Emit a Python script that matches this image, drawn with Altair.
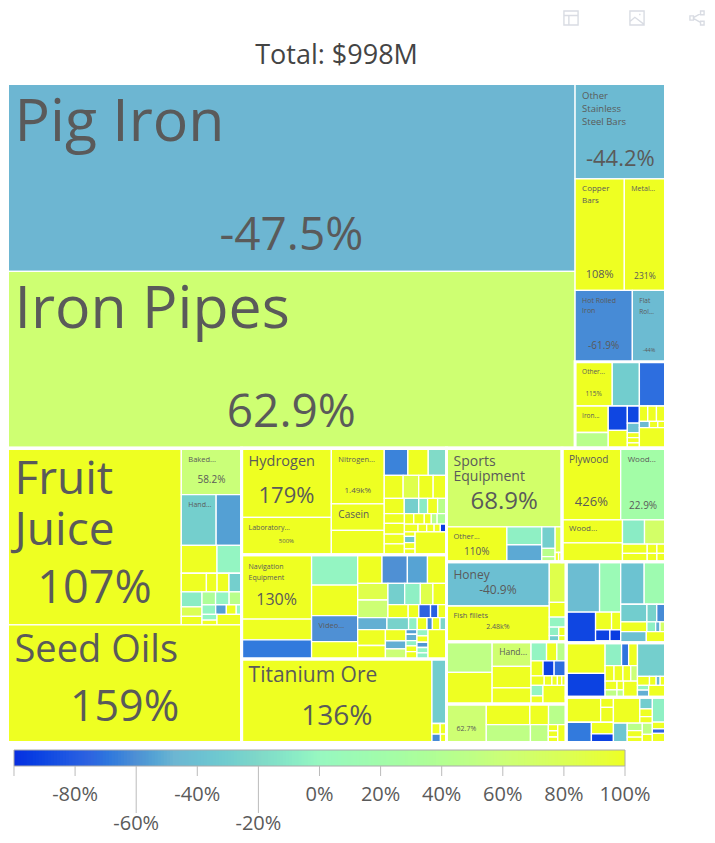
import altair as alt
import numpy as np
import pandas as pd

TITLE = "Total: $998M"
Y = 130  # growth of every plain yellow cell (beyond the top of the colour scale)

COLOR_DOMAIN = [-100, -75, -60, -47.5, -20, 0, 60, 100]
COLOR_RANGE = ["#0a2ee0", "#2f64e0", "#4f90d4", "#6db6d2", "#80d8c8", "#98f8c0", "#ccff77", "#eeff22"]
TICKS = [-100, -80, -60, -40, -20, 0, 20, 40, 60, 80, 100]
TICK_LABELS = ["", "-80%", "-60%", "-40%", "-20%", "0%", "20%", "40%", "60%", "80%", "100%"]
TREE_W, TREE_H = 655, 656


def L(v, g, name=""):
    return {"v": v, "g": g, "name": name}


def H(*kids, t=None, box=False):
    return {"dir": "H", "kids": kids, "t": t, "box": box}


def V(*kids, t=None, box=False):
    return {"dir": "V", "kids": kids, "t": t, "box": box}


top_right = V(
    L(8550, -44.2, "Other\nStainless\nSteel Bars"),
    H(L(5439, 108, "Copper\nBars"), L(4551, 231, "Metal..."), t=9990),
    H(L(4047, -61.9, "Hot Rolled\nIron"), L(2343, -44, "Flat\nRol..."), t=6390),
    V(
        H(L(1591, 115, "Other..."), L(1161, -30), L(1118, -72), t=3870),
        H(
            V(L(850, Y, "Iron..."), L(503, 45)),
            H(
                V(L(450, -90), L(329, Y)),
                V(L(200, -90), L(110, -40), L(60, Y), L(60, Y), L(62, Y)),
            ),
            V(
                H(L(125, Y), L(130, Y), L(135, Y)),
                H(L(60, -45), L(50, Y), L(46, Y)),
                L(520, Y),
            ),
            t=3690,
        ),
        t=7740,
        box=True,
    ),
    t=32670,
)

col_a_right = V(
    L(2700, 58.2, "Baked..."),
    H(L(1700, -28, "Hand..."), L(1240, -55), t=2940),
    V(
        H(L(960, Y), L(660, -2), t=1620),
        H(L(400, Y), L(170, Y), L(190, Y), L(200, -28), t=1080),
        H(
            V(L(300, -8), L(190, 80), L(170, Y), t=660),
            V(
                H(L(120, 35), L(120, -2), L(110, 45)),
                H(L(90, -2), L(70, -55), L(65, Y), L(35, 0)),
                H(V(L(60, -2), L(50, Y)), L(180, Y)),
                t=1260,
            ),
            t=1920,
        ),
        t=4620,
    ),
    t=10560,
)

nitro_right = V(
    H(L(528, -65), L(456, Y), L(408, -18)),
    H(L(357, Y), L(294, 85), L(273, Y), L(252, Y)),
    H(L(252, Y), L(182, -28), L(112, -8), L(126, Y), L(112, 45)),
    H(
        V(L(160, Y), L(180, Y), L(160, Y), L(180, Y)),
        V(
            H(L(80, Y), L(90, Y), L(60, Y), L(50, 45), L(80, 35)),
            H(L(88, Y), L(56, Y), L(48, Y), L(40, Y), L(40, -95)),
            H(V(L(40, Y), L(55, -35), L(55, Y), L(50, Y)), L(588, Y)),
        ),
    ),
    t=60 * 105,
)

nav_right = V(
    H(
        V(L(1204, -2), L(1204, Y), L(1032, -60, "Video..."), L(688, Y)),
        V(
            H(L(598, Y), L(624, -60), L(494, -54), L(468, Y)),
            H(
                V(L(432, 85), L(459, 62)),
                V(
                    H(L(304, -28), L(285, -5), L(228, 85), L(247, Y)),
                    H(L(228, Y), L(120, Y), L(132, -76), L(84, -78), L(96, Y)),
                ),
            ),
            H(L(297, -50), L(220, -25), L(88, -5), L(99, Y), L(55, -62), L(77, Y), L(66, -22)),
            H(
                V(L(378, Y), L(324, Y)),
                V(L(200, Y), L(140, -50), L(180, 60)),
                V(L(44, -55), L(60, -50), L(50, -5), L(55, Y), L(70, Y)),
                V(L(60, -2), L(60, Y), L(50, -58), L(50, -2), L(60, -5)),
                L(468, Y),
            ),
        ),
    ),
    t=133 * 102,
)

col_b = V(
    H(
        V(L(5963, 179, "Hydrogen"), L(3204, 500, "Laboratory...")),
        H(
            V(L(2805, 1490, "Nitrogen..."), L(1326, 130, "Casein"), L(1225, Y)),
            nitro_right,
            t=112 * 105,
        ),
        t=204 * 106,
        box=True,
    ),
    H(
        V(L(4340, 130, "Navigation\nEquipment"), L(1400, Y), L(1300, -68)),
        nav_right,
        t=204 * 104,
        box=True,
    ),
    H(
        L(187 * 83, 136, "Titanium Ore"),
        V(L(915, -30), H(L(85, Y), L(65, Y)), H(L(70, -62), L(50, Y))),
        t=204 * 83,
        box=True,
    ),
    t=204 * 293,
    box=True,
)

sports = V(
    L(115 * 75, 68.9, "Sports\nEquipment"),
    H(
        L(1998, 110, "Other..."),
        V(L(594, -5), L(561, -52)),
        V(L(273, -28), L(104, 45), L(65, 45)),
        V(L(168, 85), H(L(30, Y), L(30, Y))),
    ),
    t=115 * 112,
    box=True,
)

wood = V(
    H(L(3795, 426, "Plywood"), L(2898, 22.9, "Wood...")),
    H(
        V(L(1254, Y, "Wood..."), L(1026, Y)),
        V(
            H(L(483, -8), L(460, 70)),
            H(V(L(207, Y), L(184, Y)), V(L(81, Y), L(72, Y)), V(L(72, Y), L(64, Y))),
        ),
    ),
    t=103 * 112,
    box=True,
)

honey = H(
    V(L(4059, -40.9, "Honey"), L(3267, 2480, "Fish fillets")),
    V(
        L(612, 85),
        L(221, Y),
        L(153, -2),
        H(L(72, -5), L(56, Y)),
        H(L(50, -30), L(40, Y)),
    ),
    t=117 * 77,
    box=True,
)

middle = H(
    V(L(1204, 50), L(1247, Y)),
    V(L(828, 65, "Hand..."), L(720, Y), L(540, Y)),
    V(
        H(L(255, -2), L(170, Y), L(153, 45)),
        H(L(156, Y), L(143, -92), L(156, -72)),
        H(L(108, Y), L(63, Y), L(45, Y), L(36, Y), L(36, Y)),
        H(V(L(108, -2), L(84, Y)), L(374, Y)),
    ),
    t=117 * 60,
    box=True,
)

bottom_left = H(
    L(1296, 62.7),
    V(
        H(L(756, Y), L(324, Y), L(306, 45)),
        H(
            L(672, 50),
            L(272, 50),
            V(L(50, Y), L(50, Y), L(44, Y)),
            L(128, Y),
        ),
    ),
    t=117 * 37,
    box=True,
)

right_top = H(
    V(
        H(L(1410, -42), L(893, 10)),
        H(
            L(754, -90),
            V(H(L(238, Y), L(136, Y)), H(L(132, -92), L(99, -95)), L(40, Y)),
        ),
    ),
    V(
        H(L(836, -38), L(760, 15)),
        H(L(384, -30), L(144, -25), L(128, -62)),
        H(L(216, Y), L(72, -5), L(36, -50), L(45, 70)),
        H(L(240, -40), L(180, Y)),
    ),
    t=96 * 79,
    box=True,
)

right_mid = H(
    V(L(891, Y), L(693, -92)),
    V(
        H(L(280, -5), L(120, -70), L(150, Y)),
        H(L(104, Y), L(104, Y), L(91, Y), L(78, 60)),
        H(V(L(77, Y), L(66, 50)), V(L(42, Y), L(36, 50)), L(168, Y)),
    ),
    V(
        L(702, -28),
        H(L(81, Y), L(45, Y), L(27, -45), L(36, Y)),
        H(V(L(40, -2), L(60, -50)), L(150, Y)),
    ),
    t=96 * 53,
    box=True,
)

right_low = H(
    V(
        H(L(638, Y), V(L(96, Y), L(140, Y))),
        H(L(378, -68), V(L(190, Y), L(140, -92))),
    ),
    V(
        H(L(506, Y), V(L(108, -30), L(72, Y), L(60, Y))),
        H(L(198, -35), V(L(84, 45), L(72, Y), L(60, Y)), V(L(84, 50), L(60, Y))),
    ),
    V(L(242, -5), L(66, Y), L(44, -75), L(88, Y)),
    t=96 * 44,
    box=True,
)

root = V(
    H(
        V(L(565 * 187, -47.5, "Pig Iron"), L(565 * 176, 62.9, "Iron Pipes")),
        top_right,
        t=655 * 363,
        box=True,
    ),
    H(
        V(
            H(L(173 * 176, 107, "Fruit\nJuice"), col_a_right),
            L(233 * 117, 159, "Seed Oils"),
            box=True,
        ),
        col_b,
        V(
            H(sports, wood, t=218 * 113),
            H(
                V(honey, middle, bottom_left),
                V(right_top, right_mid, right_low),
                t=218 * 180,
            ),
            t=218 * 293,
            box=True,
        ),
        t=655 * 293,
        box=True,
    ),
)

# text sizes per labelled cell: name font, first line offset, line step, percent font, percent offset
TEXT = {
    ("Pig Iron", -47.5): (59, 37, 0, 46, 150),
    ("Iron Pipes", 62.9): (59, 36, 0, 46, 139),
    ("Other\nStainless\nSteel Bars", -44.2): (9.5, 12, 13, 22, 74),
    ("Copper\nBars", 108): (8, 10, 12, 11, 96),
    ("Metal...", 231): (7, 10, 0, 8.5, 97),
    ("Hot Rolled\nIron", -61.9): (7, 10, 10, 10, 55),
    ("Flat\nRol...", -44): (6.5, 10, 11, 5.5, 59),
    ("Other...", 115): (6.5, 10, 0, 6.5, 32),
    ("Iron...", Y): (6.5, 10, 0, None, 0),
    ("Fruit\nJuice", 107): (46, 30, 51, 45, 139),
    ("Seed Oils", 159): (38, 24, 0, 43, 81),
    ("Baked...", 58.2): (7.5, 11, 0, 10, 31),
    ("Hand...", -28): (7, 10, 0, None, 0),
    ("Hydrogen", 179): (14.5, 13, 0, 22, 47),
    ("Laboratory...", 500): (7, 10, 0, 6, 23),
    ("Nitrogen...", 1490): (7.5, 11, 0, 8, 42),
    ("Casein", 130): (10, 11, 0, None, 0),
    ("Navigation\nEquipment", 130): (7, 12, 11, 16, 45),
    ("Video...", -60): (7.5, 10, 0, None, 0),
    ("Titanium Ore", 136): (21, 16, 0, 28, 56),
    ("Sports\nEquipment", 68.9): (14, 13, 15, 24, 53),
    ("Other...", 110): (7.5, 10, 0, 10, 25),
    ("Plywood", 426): (10, 11, 0, 13, 53),
    ("Wood...", 22.9): (8, 11, 0, 10, 57),
    ("Wood...", Y): (8, 9, 0, None, 0),
    ("Honey", -40.9): (12, 13, 0, 12, 28),
    ("Fish fillets", 2480): (7.5, 10, 0, 7, 21),
    ("Hand...", 65): (8.5, 10, 0, None, 0),
    ("", 62.7): (0, 0, 0, 7, 25),
}


def weight(n):
    if "v" in n:
        return n["v"]
    return n["t"] if n["t"] else sum(weight(k) for k in n["kids"])


def pct_text(g):
    return f"{g / 1000:.3g}k%" if abs(g) >= 1000 else f"{g:.3g}%"


leaves, boxes = [], []


def place(n, x0, y0, x1, y1):
    if "v" in n:
        leaves.append(dict(x0=x0, x1=x1, y0=y0, y1=y1, g=n["g"], name=n["name"]))
        return
    if n["box"]:
        boxes.append(dict(x0=x0, x1=x1, y0=y0, y1=y1))
    total = sum(weight(k) for k in n["kids"])
    pos = x0 if n["dir"] == "H" else y0
    span = (x1 - x0) if n["dir"] == "H" else (y1 - y0)
    for k in n["kids"]:
        step = span * weight(k) / total
        if n["dir"] == "H":
            place(k, pos, y0, pos + step, y1)
        else:
            place(k, x0, pos, x1, pos + step)
        pos += step


# the outer white border is half hidden, so the root is grown by half its width
place(root, -1.5, -1.5, TREE_W + 1.5, TREE_H + 1.5)

name_rows, pct_rows = [], []
for c in leaves:
    key = (c["name"], c["g"])
    if key not in TEXT:
        continue
    fs, dy, step, pfs, pdy = TEXT[key]
    if c["name"]:
        for i, line in enumerate(c["name"].split("\n")):
            name_rows.append(dict(x=c["x0"] + 7, y=c["y0"] + dy + i * step + fs * 0.05, t=line, fs=fs))
    if pfs:
        pct_rows.append(dict(x=(c["x0"] + c["x1"]) / 2, y=c["y0"] + pdy + pfs * 0.05, t=pct_text(c["g"]), fs=pfs))

FONT = "Open Sans"
INK = "#5a5a5a"
xs = alt.Scale(domain=[-1, 698], nice=False, zero=False)
ys = alt.Scale(domain=[0, TREE_H], reverse=True, nice=False, zero=False)
cs = alt.Scale(domain=COLOR_DOMAIN, range=COLOR_RANGE, clamp=True)

X = alt.X("x0:Q", scale=xs, axis=None)
Y0 = alt.Y("y0:Q", scale=ys, axis=None)

cells = alt.Chart(pd.DataFrame(leaves)).mark_rect(stroke="white", strokeWidth=1.3, clip=True).encode(
    x=X, x2="x1:Q", y=Y0, y2="y1:Q", color=alt.Color("g:Q", scale=cs, legend=None)
)
outlines = alt.Chart(pd.DataFrame(boxes)).mark_rect(filled=False, stroke="white", strokeWidth=3, clip=True).encode(
    x=X, x2="x1:Q", y=Y0, y2="y1:Q"
)


def text_layer(rows, align):
    return alt.Chart(pd.DataFrame(rows)).mark_text(
        align=align, baseline="middle", font=FONT, color=INK
    ).encode(
        x=alt.X("x:Q", scale=xs, axis=None),
        y=alt.Y("y:Q", scale=ys, axis=None),
        text="t:N",
        size=alt.Size("fs:Q", scale=None),
    )


ICON_TABLE = "M-1,-1H1V1H-1Z M-1,-0.35H1 M-0.3,-0.35V1"
ICON_IMAGE = "M-1,-1H1V1H-1Z M-1,0.5L-0.3,-0.1L1,0.9 M0.3,-0.5L0.5,-0.5"
ICON_SHARE = (
    "M-0.45,-0.1L0.55,-0.65 M-0.45,0.1L0.55,0.65 "
    "M-1,-0.3H-0.5V0.3H-1Z M0.5,-1H1V-0.45H0.5Z M0.5,0.45H1V1H0.5Z"
)
icons = [
    alt.Chart(pd.DataFrame({"x": [ix], "y": [-67]}))
    .mark_point(shape=sh, size=200, filled=False, stroke="#d9dce3", strokeWidth=1.4, opacity=1)
    .encode(x=alt.X("x:Q", scale=xs, axis=None), y=alt.Y("y:Q", scale=ys, axis=None))
    for ix, sh in [(562, ICON_TABLE), (628, ICON_IMAGE), (688, ICON_SHARE)]
]

tree = alt.layer(
    cells, outlines, text_layer(name_rows, "left"), text_layer(pct_rows, "center"), *icons
).properties(
    width=699,
    height=TREE_H,
    title=alt.TitleParams(
        TITLE, anchor="middle", frame="group", dx=-21, fontSize=27, font=FONT,
        fontWeight="normal", color="#444444", offset=-62,
    ),
)

# colour bar, drawn through the same colour scale
ramp = np.arange(-100, 100, 1.0)
ramp_df = pd.DataFrame({"a": ramp, "b": np.minimum(ramp + 1.4, 100), "c": ramp + 0.5})
bx = alt.Scale(domain=[-101.96, 126.84], nice=False, zero=False)
by = alt.Scale(domain=[0, 94], reverse=True, nice=False, zero=False)
bar_df = pd.DataFrame({"a": [-100], "b": [100], "t": [9], "u": [25]})
tick_df = pd.DataFrame({"v": TICKS, "lab": TICK_LABELS})
tick_df["long"] = [v in (-60, -20) for v in TICKS]
tick_df["y0"] = 25
tick_df["y1"] = [72 if l else 35 for l in tick_df["long"]]
tick_df["yl"] = [83 if l else 54 for l in tick_df["long"]]
ramp_df["t"] = 9
ramp_df["u"] = 25

ramp_marks = alt.Chart(ramp_df).mark_rect(strokeWidth=0).encode(
    x=alt.X("a:Q", scale=bx, axis=None), x2="b:Q",
    y=alt.Y("t:Q", scale=by, axis=None), y2="u:Q",
    color=alt.Color("c:Q", scale=cs, legend=None),
)
bar_border = alt.Chart(bar_df).mark_rect(filled=False, stroke="#aaaaaa", strokeWidth=1).encode(
    x=alt.X("a:Q", scale=bx, axis=None), x2="b:Q",
    y=alt.Y("t:Q", scale=by, axis=None), y2="u:Q",
)
tick_marks = alt.Chart(tick_df).mark_rule(color="#bbbbbb", strokeWidth=1).encode(
    x=alt.X("v:Q", scale=bx, axis=None),
    y=alt.Y("y0:Q", scale=by, axis=None), y2="y1:Q",
)
tick_text = alt.Chart(tick_df).mark_text(
    font=FONT, fontSize=20, color=INK, align="center", baseline="middle"
).encode(
    x=alt.X("v:Q", scale=bx, axis=None),
    y=alt.Y("yl:Q", scale=by, axis=None),
    text="lab:N",
)
colorbar = alt.layer(ramp_marks, bar_border, tick_marks, tick_text).properties(width=699, height=94)

chart = (
    alt.vconcat(tree, colorbar, spacing=0, padding=0)
    .configure_view(stroke=None)
    .properties(background="white")
)
chart.save("out.html", embed_options={"renderer": "svg", "actions": False})
